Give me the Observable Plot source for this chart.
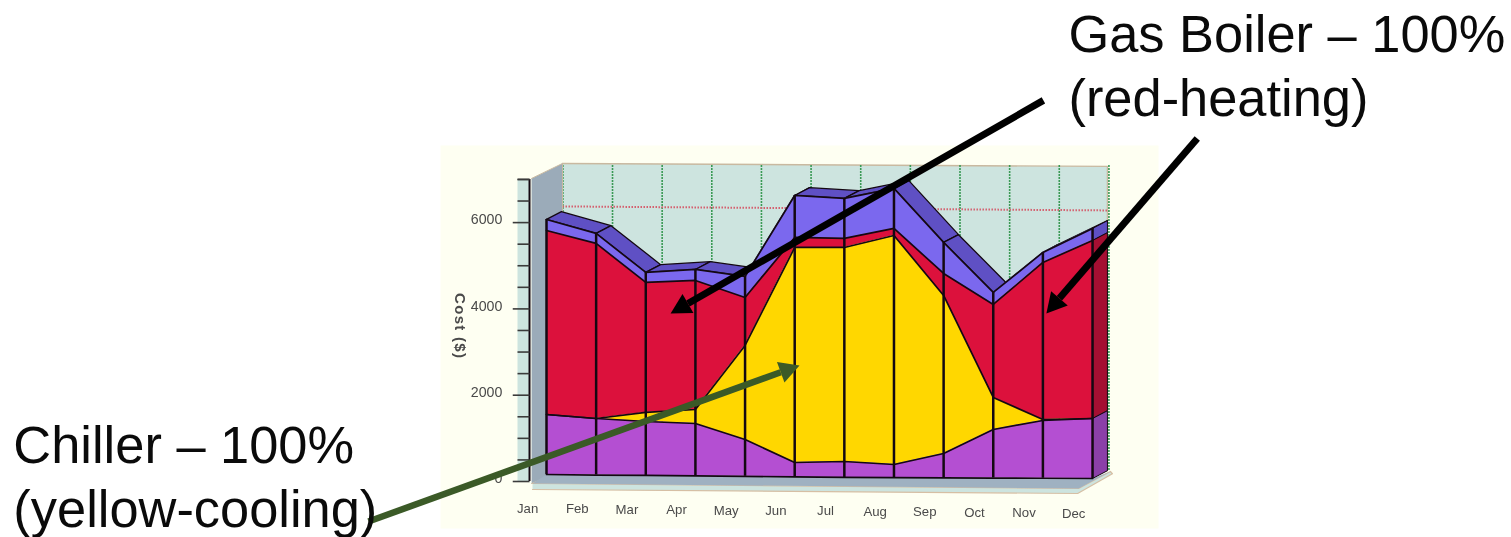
<!DOCTYPE html>
<html>
<head>
<meta charset="utf-8">
<script src="https://cdn.jsdelivr.net/npm/d3@7"></script>
<script src="https://cdn.jsdelivr.net/npm/@observablehq/plot@0.6"></script>
<style>
  html, body { margin: 0; padding: 0; background: #fff; overflow: hidden; }
  svg { display: block; }
  .spaced text { letter-spacing: 1.3px; }
</style>
</head>
<body>
<script>
// Monthly energy cost by end use, as a pseudo-3D layered area chart.
const months = ["Jan","Feb","Mar","Apr","May","Jun","Jul","Aug","Sep","Oct","Nov","Dec"];
const costTicks = [0, 2000, 4000, 6000];
const minorTicks = [500,1000,1500,2500,3000,3500,4500,5000,5500,6500,7000];

// Upper edge of each layer, in dollars, on the front face of the chart.
const floorLine  = [162,150,140,130,120,105,95,90,85,80,75,70];
const purpleTop  = [1553,1460,1391,1344,974,440,464,394,649,1205,1414,1460];
const yellowTop  = [1553,1460,1600,1669,3152,5424,5424,5702,4311,1947,1437,1460];
const redTop     = [5818,5517,4613,4659,4265,5656,5633,5865,4821,4103,5076,5586];
const blueTop    = [6073,5749,4845,4914,4752,6629,6560,6792,5540,4381,5308,5865];

// Extrusion of the 3D box, in month and dollar units.
const depthX = 0.3, depthY = 180;
const pxPerMonth = 49.64, pxPerDollar = 0.04315;

const table = months.map((m, i) => ({
  i, m, floor: floorLine[i], purple: purpleTop[i], yellow: yellowTop[i], red: redTop[i], blue: blueTop[i]
}));

const soft = {imageFilter: "blur(0.7px)"};
const ink = "#140812";

// Closed polygon drawn as a filled line.
const poly = (pts, fill, extra = {}) =>
  Plot.line(pts, {x: "0", y: "1", fill, stroke: "none", ...soft, ...extra});

// One quad per month interval for the extruded top of the blue layer.
const topQuads = d3.range(11).flatMap(i => [
  [i, blueTop[i]], [i + 1, blueTop[i + 1]],
  [i + 1 + depthX, blueTop[i + 1] + depthY], [i + depthX, blueTop[i] + depthY], [i, blueTop[i]]
].map(p => ({0: p[0], 1: p[1], q: i})));

// Right-hand end cap: each layer extruded behind December.
const last = 11;
const cap = (a, b, fill) => poly([
  [last, a], [last + depthX, a + depthY], [last + depthX, b + depthY], [last, b]
], fill, {stroke: ink, strokeWidth: 1});

// Straight arrow with a filled triangular head.
function arrow(from, to, color, width) {
  const dx = (to[0] - from[0]) * pxPerMonth, dy = (to[1] - from[1]) * pxPerDollar;
  const len = Math.hypot(dx, dy), ux = dx / len, uy = dy / len;
  const headLen = 20, half = 11;
  const base = [to[0] - ux * headLen / pxPerMonth, to[1] - uy * headLen / pxPerDollar];
  const wing = s => [base[0] - s * uy * half / pxPerMonth, base[1] + s * ux * half / pxPerDollar];
  return [
    Plot.line([from, base], {x: "0", y: "1", stroke: color, strokeWidth: width, strokeLinecap: "butt"}),
    Plot.line([to, wing(1), wing(-1)], {x: "0", y: "1", fill: color, stroke: "none"})
  ];
}

const backWall = [[0.322,7371],[11.3,7302],[11.3,255],[0.322,255]];
const sideWall = [[-0.3,7024],[0.322,7371],[0.322,255],[-0.3,-46]];
const axisStrip = [[-0.584,7000],[-0.342,7000],[-0.342,0],[-0.584,0]];
const floorTop = [[-0.282,-46],[0,162],[11,70],[11.36,232],[10.72,-162]];
const floorEdge = [[-0.282,-46],[10.72,-162],[11.36,232],[11.4,180],[10.7,-278],[-0.282,-185]];
const panel = [[-2.135,7788],[12.33,7788],[12.33,-1089],[-2.135,-1089]];

const chart = Plot.plot({
  width: 1511, height: 537,
  marginTop: 0, marginRight: 0, marginBottom: 0, marginLeft: 0,
  x: {type: "linear", domain: [-546 / pxPerMonth, 965 / pxPerMonth], range: [0, 1511], axis: null},
  y: {type: "linear", domain: [-56 / pxPerDollar, 481 / pxPerDollar], range: [537, 0], axis: null},
  style: {background: "#fff", fontFamily: "Liberation Sans, Arial, sans-serif"},
  marks: [
    poly(panel, "#fefff2"),
    poly(backWall, "#cde4df", {stroke: "#c9b9a0", strokeWidth: 1.4}),

    // Back wall grid: green month lines and the dotted red line.
    Plot.ruleX(d3.range(12).map(i => i + 0.33), {
      x: d => d, y1: 255, y2: 7340, stroke: "#3a9a55", strokeWidth: 1.6, strokeDasharray: "2,1", ...soft
    }),
    Plot.line([[0.322,6375],[11.3,6282]], {
      x: "0", y: "1", stroke: "#d4606f", strokeWidth: 2, strokeDasharray: "1.5,1.5", strokeLinecap: "butt", ...soft
    }),

    poly(sideWall, "#9babb9", {stroke: "#c9b9a0", strokeWidth: 1}),
    poly(axisStrip, "#cde4df"),
    poly(floorEdge, "#cde4df", {stroke: "#d6bfa4", strokeWidth: 1.2}),
    poly(floorTop, "#9fb1c1"),

    // Extruded top of the blue layer and the end cap.
    Plot.line(topQuads, {
      x: "0", y: "1", z: "q", fill: "#5f50c4", stroke: ink, strokeWidth: 1.3, ...soft
    }),
    cap(blueTop[last], redTop[last], "#5f50c4"),
    cap(redTop[last], purpleTop[last], "#a50f32"),
    cap(purpleTop[last], floorLine[last], "#8b40a8"),

    // Front face layers.
    Plot.areaY(table, {x: "i", y1: "red", y2: "blue", fill: "#7b68ee", ...soft}),
    Plot.areaY(table, {x: "i", y1: "yellow", y2: "red", fill: "#dc113c", ...soft}),
    Plot.areaY(table, {x: "i", y1: "purple", y2: "yellow", fill: "#ffd700", ...soft}),
    Plot.areaY(table, {x: "i", y1: "floor", y2: "purple", fill: "#b44fd2", ...soft}),

    // Layer outlines and the month dividers.
    ...["blue", "red", "yellow", "purple", "floor"].map(k =>
      Plot.line(table, {x: "i", y: k, stroke: ink, strokeWidth: 1.7, ...soft})),
    Plot.ruleX(table, {x: "i", y1: "floor", y2: "blue", stroke: ink, strokeWidth: 2.5, ...soft}),

    // Cost axis with major and minor ticks.
    Plot.ruleX([-0.342], {x: d => d, y1: 0, y2: 7000, stroke: ink, strokeWidth: 2, ...soft}),
    Plot.link(minorTicks.concat([7000]), {
      x1: -0.584, x2: -0.342, y1: d => d, y2: d => d, stroke: "#3b3b3b", strokeWidth: 1.6, ...soft
    }),
    Plot.link(costTicks, {
      x1: -0.68, x2: -0.342, y1: d => d, y2: d => d, stroke: "#3b3b3b", strokeWidth: 1.6, ...soft
    }),
    Plot.text(costTicks, {
      x: -0.89, y: d => d + 65, text: d => String(d), textAnchor: "end",
      fontSize: 14.2, fill: "#4a4a4a", ...soft
    }),
    Plot.text(["Cost ($)"], {
      x: -1.75, y: 3600, text: d => d, rotate: 90, fontSize: 15, fontWeight: "bold", fill: "#4a4a4a",
      className: "spaced", ...soft
    }),
    Plot.text(table, {
      x: d => d.i - 0.38, y: d => -626 - d.i * 10.5, text: "m",
      fontSize: 13.2, fill: "#4a4a4a", ...soft
    }),

    // Callouts.
    ...arrow([10.01, 8832], [2.50, 3894], "#000", 7),
    ...arrow([13.11, 7951], [10.07, 3894], "#000", 7),
    ...arrow([-3.586, -927], [5.097, 2689], "#3b5a27", 6.5),
    Plot.text([["Gas Boiler – 100%", 10338], ["(red-heating)", 8855]], {
      x: 10.515, y: "1", text: "0", textAnchor: "start", fontSize: 52.4, fill: "#0a0a0a"
    }),
    Plot.text([["Chiller – 100%", 811], ["(yellow-cooling)", -672]], {
      x: -10.74, y: "1", text: "0", textAnchor: "start", fontSize: 52.4, fill: "#0a0a0a"
    })
  ]
});
document.body.appendChild(chart);
</script>
</body>
</html>
